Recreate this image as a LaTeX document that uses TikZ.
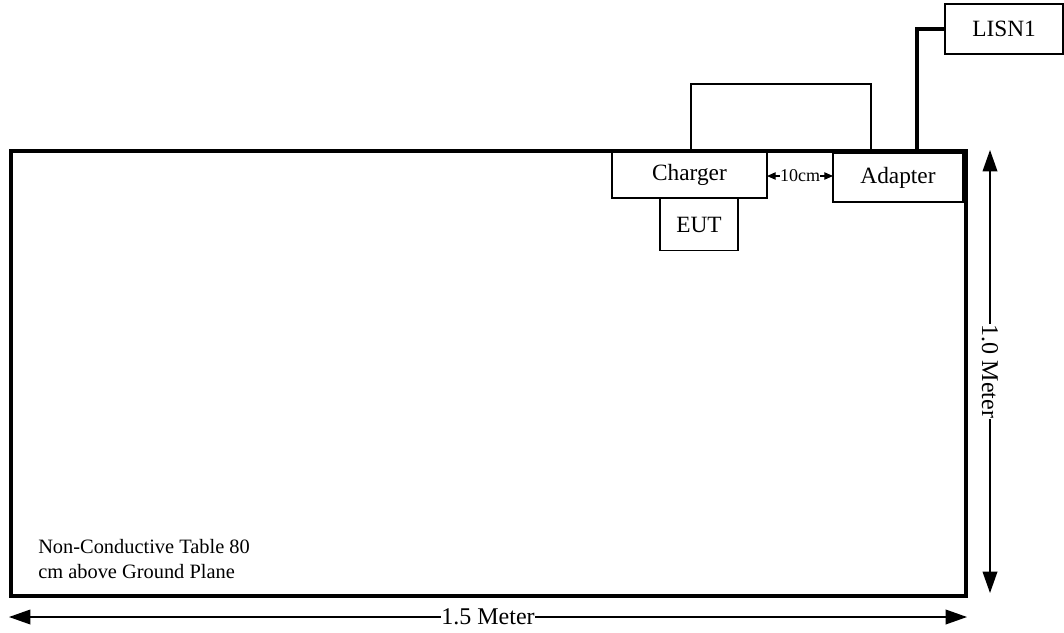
\documentclass[tikz,border=0pt]{standalone}
\usepackage{fontspec}
\setmainfont{Liberation Serif}
\usetikzlibrary{arrows.meta}
\begin{document}
\begin{tikzpicture}[x=0.75pt,y=-0.75pt,
  box/.style={draw,line width=1.1pt,inner sep=0pt,outer sep=0pt,font=\fontsize{17.5}{20}\selectfont},
  tablebox/.style={draw,line width=2.4pt,inner sep=0pt,outer sep=0pt},
  wire/.style={line width=0.9pt},
  thickwire/.style={line width=2.4pt},
  dim/.style={line width=1.1pt,{Triangle[length=16pt,width=11pt]}-{Triangle[length=16pt,width=11pt]}},
  smalldim/.style={line width=0.9pt,{Triangle[length=6.5pt,width=5.5pt]}-{Triangle[length=6.5pt,width=5.5pt]}},
  lbl/.style={fill=white,inner sep=0.5pt,font=\fontsize{18}{20}\selectfont}]
\useasboundingbox (0,0) rectangle (1064,632);
\node[tablebox,minimum width=716.25pt,minimum height=333.75pt] (table) at (488.5,373.5) {};
\node[box,minimum width=116.25pt,minimum height=34.5pt] (charger) at (689.5,175) {Charger};
\node[box,minimum width=58.5pt,minimum height=39pt] (eut) at (699,224.5) {EUT};
\node[box,minimum width=97.5pt,minimum height=36.75pt] (adapter) at (898,177.5) {Adapter};
\node[box,minimum width=88.5pt,minimum height=37.5pt] (lisn) at (1004,29) {LISN1};
\node[align=left,anchor=north west,inner sep=0pt,font=\fontsize{15.3}{19}\selectfont] (note) at (38,539) {Non-Conductive Table 80\\cm above Ground Plane};
\coordinate (w1) at (691,84);
\coordinate (w2) at (871,84);
\coordinate (w3) at (917,0);
\draw[wire] (charger.north -| w1) |- (w1) -- (w2) -- (adapter.north -| w2);
\draw[thickwire] (table.north -| w3) |- (lisn.west);
\draw[smalldim] (charger.east |- 0,176) -- (adapter.west |- 0,176) node[midway,fill=white,inner sep=0.3pt,font=\fontsize{13.5}{14}\selectfont] (gap) {10cm};
\coordinate (vt) at (990,150);
\coordinate (vb) at (990,593);
\draw[dim] (vt) -- (vb) node[midway,lbl,rotate=-90] (vlab) {1.0 Meter};
\coordinate (hl) at (9,617);
\coordinate (hr) at (967,617);
\draw[dim] (hl) -- (hr) node[midway,lbl] (hlab) {1.5 Meter};
\end{tikzpicture}
\end{document}
